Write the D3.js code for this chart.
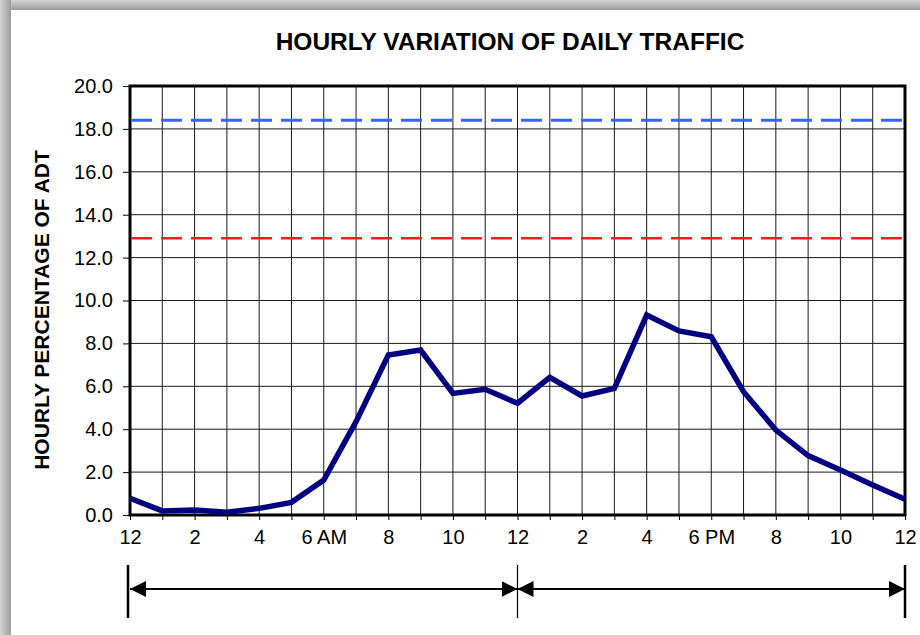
<!DOCTYPE html>
<html>
<head>
<meta charset="utf-8">
<script src="https://cdn.jsdelivr.net/npm/d3@7"></script>
<style>
  body { margin: 0; background: #fff; }
  svg { display: block; font-family: "Liberation Sans", Arial, sans-serif; }
</style>
</head>
<body>
<svg id="chart" width="920" height="635"></svg>
<script>
// hourly share of ADT, midnight to midnight
var hours = [0, 1, 2, 3, 4, 5, 6, 7, 8, 9, 10, 11, 12, 13, 14, 15, 16, 17, 18, 19, 20, 21, 22, 23, 24];
var percents = [0.78, 0.19, 0.23, 0.13, 0.31, 0.59, 1.63, 4.35, 7.46, 7.69, 5.67, 5.86, 5.21,
                6.42, 5.55, 5.90, 9.32, 8.58, 8.31, 5.75, 3.96, 2.77, 2.10, 1.40, 0.73];
var refLines = [18.4, 12.9];
var xTickHours = [0, 2, 4, 6, 8, 10, 12, 14, 16, 18, 20, 22, 24];
var xTickLabels = ["12", "2", "4", "6 AM", "8", "10", "12", "2", "4", "6 PM", "8", "10", "12"];
var yTicks = [0, 2, 4, 6, 8, 10, 12, 14, 16, 18, 20];
var periods = [[0, 12], [12, 24]];

var svg = d3.select("#chart");

// grey frame along top and left
var defs = svg.append("defs");
var gTop = defs.append("linearGradient").attr("id", "fadeTop").attr("x1", 0).attr("y1", 0).attr("x2", 0).attr("y2", 1);
gTop.append("stop").attr("offset", 0).attr("stop-color", "#d4d4d4");
gTop.append("stop").attr("offset", 1).attr("stop-color", "#9c9c9c");
var gLeft = defs.append("linearGradient").attr("id", "fadeLeft").attr("x1", 0).attr("y1", 0).attr("x2", 1).attr("y2", 0);
gLeft.append("stop").attr("offset", 0).attr("stop-color", "#d4d4d4");
gLeft.append("stop").attr("offset", 1).attr("stop-color", "#9c9c9c");
svg.append("rect").attr("x", 0).attr("y", 0).attr("width", 920).attr("height", 10).attr("fill", "url(#fadeTop)");
svg.append("rect").attr("x", 0).attr("y", 0).attr("width", 11).attr("height", 635).attr("fill", "url(#fadeLeft)");

var x = d3.scaleLinear().domain([0, 24]).range([130, 905]);
var y = d3.scaleLinear().domain([0, 20]).range([515, 86]);

// title
svg.append("text")
  .attr("x", 510).attr("y", 50)
  .attr("text-anchor", "middle")
  .style("font-size", "24.5px").style("font-weight", "bold")
  .text("HOURLY VARIATION OF DAILY TRAFFIC");

// grid
svg.append("g").selectAll("line")
  .data(hours.slice(1, -1))
  .enter().append("line")
  .attr("x1", function(d) { return x(d); })
  .attr("x2", function(d) { return x(d); })
  .attr("y1", y(20)).attr("y2", y(0))
  .attr("stroke", "#1a1a1a").attr("stroke-width", 1);

svg.append("g").selectAll("line")
  .data(yTicks.slice(1, -1))
  .enter().append("line")
  .attr("y1", function(d) { return y(d); })
  .attr("y2", function(d) { return y(d); })
  .attr("x1", x(0)).attr("x2", x(24))
  .attr("stroke", "#1a1a1a").attr("stroke-width", 1);

// y axis
var yAxis = d3.axisLeft(y)
  .tickValues(yTicks)
  .tickSize(7)
  .tickPadding(10)
  .tickFormat(d3.format(".1f"));

svg.append("g")
  .attr("transform", "translate(" + x(0) + ",0)")
  .call(yAxis)
  .call(function(g) {
    g.select(".domain").remove();
    g.selectAll("line").attr("stroke", "#000");
    g.selectAll("text").style("font-size", "20px").attr("fill", "#000");
  });

// x axis
var xAxis = d3.axisBottom(x)
  .tickValues(hours)
  .tickSize(5)
  .tickPadding(10)
  .tickFormat(function(d) {
    var i = xTickHours.indexOf(d);
    return i < 0 ? "" : xTickLabels[i];
  });

svg.append("g")
  .attr("transform", "translate(0," + y(0) + ")")
  .call(xAxis)
  .call(function(g) {
    g.select(".domain").remove();
    g.selectAll("line").attr("stroke", "#000");
    g.selectAll("text").style("font-size", "20px").attr("fill", "#000");
  });

// plot border
svg.append("rect")
  .attr("x", x(0)).attr("y", y(20))
  .attr("width", x(24) - x(0)).attr("height", y(0) - y(20))
  .attr("fill", "none").attr("stroke", "#000").attr("stroke-width", 3);

// reference lines
var refColor = d3.scaleOrdinal().domain(refLines).range(["#3366ff", "#ff1a1a"]);
svg.append("g").selectAll("line")
  .data(refLines)
  .enter().append("line")
  .attr("x1", x(0) + 1).attr("x2", x(24) - 1)
  .attr("y1", function(d) { return y(d); })
  .attr("y2", function(d) { return y(d); })
  .attr("stroke", function(d) { return refColor(d); })
  .attr("stroke-width", function(d, i) { return i == 0 ? 3 : 2.5; })
  .attr("stroke-dasharray", "21,9");

// traffic line
var line = d3.line()
  .x(function(d, i) { return x(hours[i]); })
  .y(function(d) { return y(d); });

svg.append("path")
  .datum(percents)
  .attr("d", line)
  .attr("fill", "none")
  .attr("stroke", "#000080")
  .attr("stroke-width", 5.5)
  .attr("stroke-linejoin", "miter");

// y axis title
svg.append("text")
  .attr("transform", "translate(49,310)rotate(-90)")
  .attr("text-anchor", "middle")
  .style("font-size", "21px").style("font-weight", "bold")
  .text("HOURLY PERCENTAGE OF ADT");

// AM / PM span arrows
defs.append("marker")
  .attr("id", "head")
  .attr("viewBox", "0 0 16 16")
  .attr("refX", 16).attr("refY", 8)
  .attr("markerWidth", 16).attr("markerHeight", 16)
  .attr("markerUnits", "userSpaceOnUse")
  .attr("orient", "auto-start-reverse")
  .append("path").attr("d", "M0,0L16,8L0,16Z").attr("fill", "#000");

var arrowY = 589;
svg.append("g").selectAll("line")
  .data(periods)
  .enter().append("line")
  .attr("x1", function(d) { return x(d[0]); })
  .attr("x2", function(d) { return x(d[1]); })
  .attr("y1", arrowY).attr("y2", arrowY)
  .attr("stroke", "#000").attr("stroke-width", 2)
  .attr("marker-start", "url(#head)")
  .attr("marker-end", "url(#head)");

svg.append("g").selectAll("line")
  .data([0, 12, 24])
  .enter().append("line")
  .attr("x1", function(d) { return x(d) - (d == 0 ? 2 : 0); })
  .attr("x2", function(d) { return x(d) - (d == 0 ? 2 : 0); })
  .attr("y1", 565).attr("y2", 618)
  .attr("stroke", "#000")
  .attr("stroke-width", function(d) { return d == 12 ? 1.2 : 2.5; });
</script>
</body>
</html>
